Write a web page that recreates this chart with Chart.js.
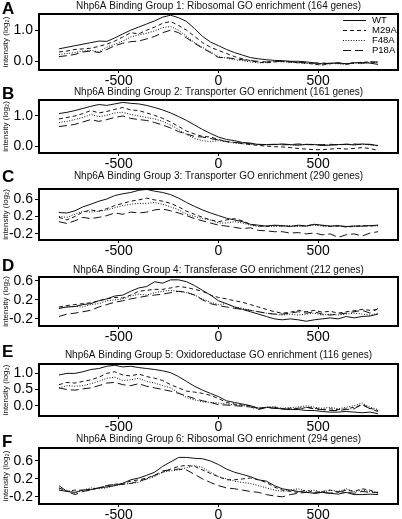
<!DOCTYPE html>
<html><head><meta charset="utf-8">
<script src="https://cdn.jsdelivr.net/npm/chart.js@4.4.1/dist/chart.umd.min.js"></script>
<style>
html,body{margin:0;padding:0;background:#fff;}
body{width:402px;height:519px;position:relative;overflow:hidden;font-family:"Liberation Sans",Arial,sans-serif;}
canvas{position:absolute;left:0;}
.lab{position:absolute;left:2px;font:bold 17px "Liberation Sans",Arial,sans-serif;line-height:17px;color:#000;}
</style></head>
<body>
<script>
// ---------- DATA ----------
const positions = [-800,-760,-720,-680,-640,-600,-560,-520,-480,-440,-400,-360,-320,-280,-240,-200,-160,-120,-80,-40,0,40,80,120,160,200,240,280,320,360,400,440,480,520,560,600,640,680,720,760,800];
const seriesNames = ["WT","M29A","F48A","P18A"];
const panelLetters = ["A","B","C","D","E","F"];
const panelTitles = [
  "Nhp6A Binding Group 1: Ribosomal GO enrichment (164 genes)",
  "Nhp6A Binding Group 2: Transporter GO enrichment (161 genes)",
  "Nhp6A Binding Group 3: Transporter GO enrichment (290 genes)",
  "Nhp6A Binding Group 4: Transferase GO enrichment (212 genes)",
  "Nhp6A Binding Group 5: Oxidoreductase GO enrichment (116 genes)",
  "Nhp6A Binding Group 6: Ribosomal GO enrichment (294 genes)"
];
const yAxisTitle = "intensity (log\u2082)";
const xTickValues = [-500,0,500];
const yTickValues = [[0,1],[0,1],[-0.2,0.2,0.6],[-0.2,0.2,0.6],[0,0.5,1],[-0.2,0.2,0.6]];
const yRanges = [[-0.28,1.52],[-0.23,1.53],[-0.34,0.83],[-0.35,0.68],[-0.32,1.29],[-0.36,0.89]];

// Panel A
const A_WT   = [0.40,0.45,0.50,0.55,0.60,0.65,0.64,0.75,0.88,1.00,1.10,1.20,1.30,1.42,1.48,1.40,1.28,1.05,0.80,0.62,0.50,0.38,0.28,0.20,0.12,0.08,0.05,0.03,0.02,0.00,0.00,-0.02,-0.05,-0.08,-0.06,-0.05,-0.08,-0.05,-0.04,-0.06,-0.10];
const A_M29A = [0.30,0.33,0.38,0.40,0.42,0.48,0.55,0.65,0.78,0.92,0.88,1.00,1.10,1.22,1.28,1.15,1.00,0.80,0.60,0.45,0.35,0.25,0.15,0.08,0.02,-0.03,-0.05,-0.02,0.00,-0.02,-0.05,-0.05,-0.10,-0.12,-0.08,-0.05,-0.08,-0.05,-0.03,-0.02,-0.05];
const A_F48A = [0.22,0.25,0.28,0.33,0.35,0.30,0.45,0.55,0.65,0.78,0.85,0.90,0.98,1.08,1.12,1.00,0.80,0.60,0.45,0.30,0.15,0.10,0.05,0.02,-0.02,-0.05,-0.04,0.00,-0.02,-0.03,-0.05,-0.07,-0.08,-0.12,-0.07,-0.08,-0.10,-0.05,-0.08,-0.03,-0.05];
const A_P18A = [0.15,0.18,0.22,0.30,0.33,0.28,0.38,0.50,0.58,0.63,0.65,0.72,0.80,0.92,1.00,0.92,0.75,0.58,0.42,0.28,0.12,0.12,0.08,0.05,0.02,0.00,-0.02,0.00,0.00,-0.02,-0.03,-0.05,-0.06,-0.05,-0.08,-0.06,-0.10,-0.05,-0.06,-0.02,-0.02];
// Panel B
const B_WT   = [1.08,1.12,1.18,1.25,1.32,1.38,1.35,1.40,1.45,1.42,1.40,1.35,1.28,1.20,1.10,0.98,0.85,0.70,0.55,0.42,0.30,0.22,0.18,0.12,0.10,0.05,0.05,0.05,0.07,0.05,0.03,0.06,0.05,0.02,0.03,0.05,0.06,0.04,0.07,0.05,0.02];
const B_M29A = [0.90,0.95,1.00,1.08,1.18,1.10,1.15,1.22,1.28,1.20,1.18,1.10,1.02,0.92,0.80,0.65,0.50,0.40,0.32,0.30,0.22,0.15,0.12,0.08,0.05,0.02,0.00,-0.02,-0.03,-0.05,-0.08,-0.10,-0.12,-0.12,-0.10,-0.08,-0.10,-0.08,-0.05,-0.08,-0.15];
const B_F48A = [0.78,0.82,0.88,0.95,1.05,0.98,1.02,1.10,1.12,1.05,1.00,0.95,0.90,0.82,0.70,0.55,0.38,0.25,0.18,0.15,0.18,0.15,0.10,0.08,0.06,0.05,0.04,0.05,0.06,0.04,0.03,0.05,0.06,0.03,0.04,0.05,0.05,0.04,0.06,0.04,0.00];
const B_P18A = [0.65,0.68,0.72,0.80,0.88,0.82,0.88,0.95,1.00,0.92,0.88,0.85,0.78,0.70,0.60,0.48,0.40,0.32,0.30,0.25,0.20,0.15,0.12,0.10,0.08,0.06,0.05,0.06,0.04,0.05,0.07,0.05,0.04,0.05,0.06,0.04,0.06,0.07,0.05,0.06,0.02];
// Panel C
const C_WT   = [0.29,0.28,0.33,0.42,0.48,0.55,0.60,0.68,0.72,0.75,0.80,0.82,0.78,0.75,0.70,0.62,0.52,0.43,0.35,0.28,0.22,0.16,0.12,0.08,0.02,0.00,-0.02,0.00,-0.01,-0.03,0.00,-0.02,0.02,0.00,-0.02,-0.01,-0.03,-0.02,-0.02,-0.01,0.00];
const C_M29A = [0.18,0.12,0.20,0.30,0.35,0.32,0.38,0.45,0.50,0.55,0.58,0.62,0.58,0.55,0.50,0.42,0.32,0.25,0.18,0.12,0.08,0.12,0.15,0.10,0.02,-0.02,-0.03,-0.01,-0.02,-0.03,-0.01,-0.02,0.02,-0.01,-0.03,-0.02,-0.04,-0.03,-0.01,-0.02,0.00];
const C_F48A = [0.20,0.18,0.25,0.32,0.30,0.32,0.35,0.40,0.45,0.48,0.50,0.50,0.52,0.48,0.42,0.35,0.25,0.20,0.15,0.12,0.05,0.05,0.08,0.05,0.00,-0.03,-0.02,-0.03,-0.02,-0.01,-0.03,-0.02,0.00,-0.02,-0.03,-0.02,-0.04,-0.02,-0.03,-0.01,-0.02];
const C_P18A = [0.08,0.04,0.10,0.18,0.15,0.18,0.22,0.28,0.25,0.30,0.28,0.30,0.35,0.37,0.33,0.28,0.22,0.15,0.10,0.05,0.00,-0.02,-0.05,-0.08,-0.06,-0.12,-0.13,-0.15,-0.15,-0.18,-0.17,-0.20,-0.18,-0.22,-0.20,-0.28,-0.22,-0.20,-0.25,-0.18,-0.15];
// Panel D
const D_WT   = [0.02,0.05,0.06,0.10,0.12,0.18,0.22,0.28,0.30,0.38,0.45,0.48,0.58,0.55,0.62,0.62,0.58,0.50,0.40,0.30,0.18,0.12,0.05,0.00,-0.05,-0.10,-0.15,-0.20,-0.22,-0.20,-0.22,-0.25,-0.22,-0.20,-0.18,-0.20,-0.15,-0.18,-0.15,-0.14,-0.10];
const D_M29A = [0.05,0.08,0.10,0.12,0.14,0.18,0.22,0.25,0.24,0.30,0.38,0.40,0.42,0.42,0.45,0.48,0.46,0.42,0.38,0.30,0.25,0.22,0.18,0.15,0.10,0.05,0.00,-0.05,-0.08,-0.06,-0.02,-0.05,-0.02,-0.06,-0.04,-0.08,-0.05,-0.03,0.00,-0.02,0.00];
const D_F48A = [0.02,0.05,0.06,0.05,0.10,0.12,0.18,0.20,0.22,0.28,0.32,0.30,0.35,0.38,0.40,0.38,0.35,0.30,0.22,0.15,0.10,0.12,0.05,0.02,-0.02,-0.05,-0.08,-0.10,-0.12,-0.10,-0.12,-0.10,-0.08,-0.12,-0.10,-0.12,-0.10,-0.08,-0.10,-0.12,-0.08];
const D_P18A = [-0.15,-0.10,-0.08,-0.05,-0.02,0.05,0.10,0.15,0.18,0.22,0.25,0.28,0.30,0.32,0.35,0.38,0.36,0.30,0.20,0.12,0.08,0.05,0.02,0.00,-0.02,-0.05,-0.08,-0.10,-0.10,-0.08,-0.05,-0.08,-0.05,-0.10,-0.12,-0.10,-0.08,-0.05,-0.02,-0.08,0.02];
// Panel E
const E_WT   = [0.95,1.00,1.00,1.05,1.12,1.15,1.22,1.25,1.20,1.22,1.18,1.15,1.12,1.08,1.02,0.90,0.75,0.60,0.48,0.38,0.28,0.15,0.10,0.05,0.00,-0.08,-0.05,-0.08,-0.10,-0.12,-0.12,-0.15,-0.15,-0.18,-0.20,-0.20,-0.18,-0.20,-0.22,-0.20,-0.25];
const E_M29A = [0.65,0.72,0.70,0.75,0.80,0.88,1.00,1.05,0.95,0.92,0.98,0.90,0.85,0.78,0.65,0.55,0.45,0.42,0.38,0.32,0.22,0.10,0.05,0.02,0.00,-0.10,-0.05,-0.05,-0.10,-0.08,-0.12,-0.05,-0.08,-0.12,-0.10,-0.12,-0.10,-0.05,0.02,-0.08,-0.15];
const E_F48A = [0.55,0.62,0.60,0.62,0.68,0.75,0.85,0.88,0.78,0.80,0.85,0.75,0.70,0.62,0.55,0.40,0.25,0.18,0.12,0.10,0.08,0.05,0.03,0.00,-0.02,-0.08,-0.05,-0.03,-0.08,-0.06,-0.04,0.00,-0.05,-0.08,-0.05,-0.10,-0.05,0.00,0.08,-0.05,-0.12];
const E_P18A = [0.55,0.50,0.48,0.52,0.55,0.62,0.70,0.72,0.65,0.62,0.68,0.60,0.55,0.50,0.45,0.38,0.30,0.22,0.15,0.10,0.03,0.02,0.00,-0.02,-0.04,-0.12,-0.06,-0.08,-0.10,-0.12,-0.08,-0.05,-0.10,-0.12,-0.15,-0.15,-0.12,-0.10,0.05,-0.10,-0.18];
// Panel F
const F_WT   = [0.05,-0.08,-0.10,-0.05,-0.04,0.00,0.02,0.05,0.10,0.18,0.22,0.28,0.35,0.48,0.58,0.68,0.68,0.66,0.65,0.60,0.52,0.42,0.35,0.30,0.25,0.18,0.15,0.05,-0.02,-0.05,-0.08,-0.10,-0.12,-0.10,-0.12,-0.14,-0.10,-0.15,-0.15,-0.14,-0.15];
const F_M29A = [0.00,-0.08,-0.05,-0.05,-0.03,0.00,0.05,0.08,0.10,0.15,0.18,0.22,0.28,0.35,0.42,0.48,0.50,0.48,0.40,0.32,0.25,0.18,0.18,0.20,0.22,0.18,0.12,0.02,-0.05,-0.08,-0.10,-0.05,-0.10,-0.08,-0.05,-0.10,-0.05,-0.08,-0.02,-0.05,-0.12];
const F_F48A = [-0.02,-0.05,-0.12,-0.05,0.00,-0.02,0.00,0.05,0.08,0.10,0.12,0.20,0.25,0.35,0.38,0.40,0.45,0.50,0.45,0.35,0.25,0.20,0.15,0.12,0.10,0.05,0.00,-0.05,-0.08,-0.05,-0.02,-0.08,-0.05,-0.10,-0.05,-0.08,-0.02,-0.08,-0.05,-0.08,-0.10];
const F_P18A = [-0.05,-0.08,-0.15,-0.08,-0.05,0.00,0.05,0.08,0.08,0.10,0.15,0.20,0.28,0.38,0.40,0.42,0.40,0.30,0.20,0.12,0.05,0.00,-0.02,-0.05,-0.08,-0.10,-0.15,-0.18,-0.20,-0.15,-0.12,-0.10,-0.12,-0.10,-0.12,-0.08,-0.10,-0.12,-0.08,-0.10,-0.10];

const panelSeries = [
  [A_WT,A_M29A,A_F48A,A_P18A],
  [B_WT,B_M29A,B_F48A,B_P18A],
  [C_WT,C_M29A,C_F48A,C_P18A],
  [D_WT,D_M29A,D_F48A,D_P18A],
  [E_WT,E_M29A,E_F48A,E_P18A],
  [F_WT,F_M29A,F_F48A,F_P18A]
];

// ---------- LAYOUT / STYLE ----------
// [canvasTop, canvasHeight, titleGap, letterTop]
const layout = [
  [0, 90, 2, 0],
  [86, 87, 2, 85],
  [170, 90, 7, 168],
  [264, 82, 1, 257],
  [349, 87, 3, 343],
  [433, 91, 3, 433]
];
const dashes = [[], [4,3], [1,1.6], [8,4]];
const INK = '#111';
const FAMILY = '"Liberation Sans",Arial,sans-serif';

Chart.defaults.color = '#000';
Chart.defaults.font.family = FAMILY;

const boxPlugin = {
  id:'box',
  afterDatasetsDraw(chart){
    const a = chart.chartArea, ctx = chart.ctx;
    ctx.save();
    ctx.strokeStyle = '#000';
    ctx.lineWidth = 2;
    ctx.strokeRect(a.left, a.top, a.right - a.left, a.bottom - a.top);
    ctx.restore();
  }
};
const legendPlugin = {
  id:'innerLegend',
  afterDraw(chart){
    const ctx = chart.ctx;
    ctx.save();
    ctx.font = '9.5px ' + FAMILY;
    ctx.fillStyle = '#000';
    ctx.textBaseline = 'middle';
    seriesNames.forEach((n,i)=>{
      const y = 20 + i*10;
      ctx.strokeStyle = INK; ctx.lineWidth = 1;
      ctx.setLineDash(dashes[i]);
      ctx.beginPath(); ctx.moveTo(343, y + 0.5); ctx.lineTo(366, y + 0.5); ctx.stroke();
      ctx.setLineDash([]);
      ctx.fillText(n, 372, y + 0.5);
    });
    ctx.restore();
  }
};

panelTitles.forEach((title, p) => {
  const [top, h, gap, letterTop] = layout[p];
  const cv = document.createElement('canvas');
  cv.width = 402; cv.height = h;
  cv.style.top = top + 'px';
  cv.style.width = '402px'; cv.style.height = h + 'px';
  document.body.appendChild(cv);
  const lab = document.createElement('div');
  lab.className = 'lab';
  lab.style.top = letterTop + 'px';
  lab.textContent = panelLetters[p];
  document.body.appendChild(lab);

  const datasets = seriesNames.map((n,i)=>({
    label: n,
    data: positions.map((x,k)=>({x:x, y:panelSeries[p][i][k]})),
    borderColor: INK,
    borderWidth: 1,
    borderDash: dashes[i],
    pointRadius: 0,
    fill: false,
    tension: 0
  }));
  const yt = yTickValues[p];
  new Chart(cv, {
    type:'line',
    data:{datasets},
    plugins: p === 0 ? [boxPlugin, legendPlugin] : [boxPlugin],
    options:{
      responsive:false, animation:false, devicePixelRatio:1,
      layout:{padding:{left:0,right:4,top:0,bottom:0}},
      plugins:{
        legend:{display:false},
        tooltip:{enabled:false},
        title:{display:true, text:title, fullSize:false, color:'#111',
          font:{family:FAMILY, size:10, weight:'normal', lineHeight:1.2},
          padding:{top:0,bottom:gap}}
      },
      scales:{
        x:{type:'linear', min:-900, max:900,
          afterBuildTicks(s){ s.ticks = xTickValues.map(v=>({value:v})); },
          afterFit(s){ s.height = 20; },
          ticks:{font:{family:FAMILY, size:14, lineHeight:1.2}, color:'#000', padding:0, maxRotation:0, autoSkip:false,
            callback:v=>String(v)},
          grid:{display:true, drawOnChartArea:false, drawTicks:true, tickLength:3, color:'#000'},
          border:{display:false}
        },
        y:{type:'linear', min:yRanges[p][0], max:yRanges[p][1],
          afterBuildTicks(s){ s.ticks = yt.map(v=>({value:v})); },
          afterFit(s){ s.width = 39; },
          ticks:{font:{family:FAMILY, size:14, lineHeight:1}, color:'#000', padding:2, autoSkip:false, callback:v=>Number(v).toFixed(1)},
          grid:{display:true, drawOnChartArea:false, drawTicks:true, tickLength:4, color:'#000'},
          border:{display:false},
          title:{display:true, text:yAxisTitle, color:'#111', font:{family:FAMILY, size:8, lineHeight:1.2}, padding:{top:1,bottom:0}}
        }
      }
    }
  });
});
</script>
</body></html>
